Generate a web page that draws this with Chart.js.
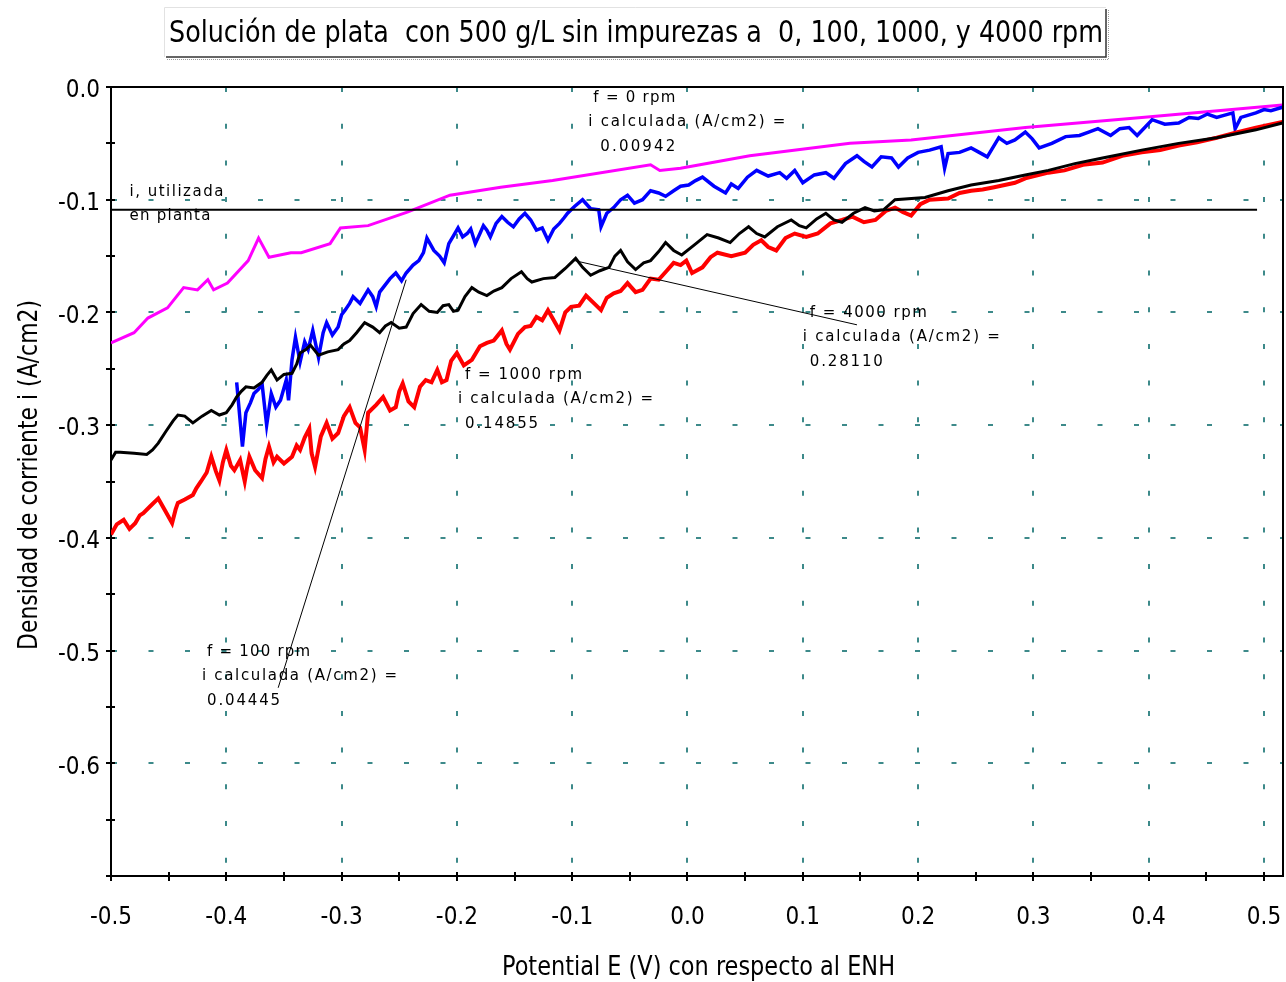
<!DOCTYPE html>
<html>
<head>
<meta charset="utf-8">
<script src="https://cdn.jsdelivr.net/npm/chart.js@4.4.0/dist/chart.umd.min.js"></script>
<style>
  html, body { margin: 0; padding: 0; background: #fff; }
  #wrap { width: 1286px; height: 982px; }
</style>
</head>
<body>
<div id="wrap"><canvas id="chart" width="1286" height="982"></canvas></div>
<script>
// Potential E (V vs ENH) / current density i (A/cm2), one array of [E, i] per speed
const E_MIN = -0.5, E_MAX = 0.5165;
const I_MIN = -0.7, I_MAX = 0.0;

// tick positions (labels only on the tenths)
const eTicks = [-0.5, -0.45, -0.4, -0.35, -0.3, -0.25, -0.2, -0.15, -0.1, -0.05, 0,
                0.05, 0.1, 0.15, 0.2, 0.25, 0.3, 0.35, 0.4, 0.45, 0.5];
const iTicks = [-0.7, -0.65, -0.6, -0.55, -0.5, -0.45, -0.4, -0.35, -0.3, -0.25,
                -0.2, -0.15, -0.1, -0.05, 0];

const rpm0 = [
  [-0.500,-0.227],[-0.480,-0.218],[-0.468,-0.205],[-0.451,-0.196],[-0.437,-0.178],[-0.425,-0.180],
  [-0.416,-0.171],[-0.411,-0.180],[-0.399,-0.174],[-0.381,-0.154],[-0.372,-0.134],[-0.363,-0.151],
  [-0.344,-0.147],[-0.335,-0.147],[-0.310,-0.139],[-0.301,-0.125],[-0.277,-0.123],[-0.243,-0.111],
  [-0.206,-0.096],[-0.162,-0.089],[-0.117,-0.083],[-0.032,-0.069],[-0.024,-0.074],[-0.006,-0.072],
  [0.054,-0.061],[0.141,-0.050],[0.194,-0.047],[0.293,-0.036],[0.394,-0.027],[0.516,-0.016]
];

const rpm100 = [
  [-0.391,-0.262],[-0.386,-0.319],[-0.383,-0.289],[-0.379,-0.280],[-0.376,-0.272],[-0.372,-0.268],
  [-0.369,-0.263],[-0.365,-0.300],[-0.361,-0.272],[-0.357,-0.284],[-0.353,-0.278],[-0.348,-0.260],
  [-0.346,-0.278],[-0.343,-0.242],[-0.340,-0.222],[-0.336,-0.244],[-0.332,-0.226],[-0.329,-0.233],
  [-0.325,-0.216],[-0.320,-0.240],[-0.316,-0.218],[-0.313,-0.209],[-0.308,-0.220],[-0.303,-0.213],
  [-0.300,-0.202],[-0.297,-0.198],[-0.293,-0.192],[-0.290,-0.186],[-0.284,-0.192],[-0.277,-0.180],
  [-0.273,-0.186],[-0.270,-0.195],[-0.267,-0.182],[-0.264,-0.178],[-0.258,-0.170],[-0.253,-0.165],
  [-0.248,-0.172],[-0.244,-0.165],[-0.238,-0.158],[-0.233,-0.154],[-0.229,-0.147],[-0.226,-0.134],
  [-0.220,-0.145],[-0.215,-0.150],[-0.211,-0.156],[-0.207,-0.139],[-0.203,-0.132],[-0.199,-0.125],
  [-0.195,-0.133],[-0.191,-0.130],[-0.188,-0.126],[-0.184,-0.139],[-0.180,-0.130],[-0.177,-0.123],
  [-0.174,-0.127],[-0.171,-0.133],[-0.166,-0.121],[-0.161,-0.115],[-0.156,-0.120],[-0.151,-0.124],
  [-0.146,-0.117],[-0.141,-0.112],[-0.136,-0.118],[-0.131,-0.127],[-0.126,-0.125],[-0.121,-0.136],
  [-0.116,-0.126],[-0.111,-0.121],[-0.107,-0.116],[-0.104,-0.112],[-0.098,-0.106],[-0.091,-0.100],
  [-0.084,-0.108],[-0.077,-0.109],[-0.075,-0.124],[-0.070,-0.112],[-0.064,-0.107],[-0.058,-0.100],
  [-0.052,-0.096],[-0.046,-0.103],[-0.039,-0.100],[-0.032,-0.092],[-0.025,-0.094],[-0.019,-0.097],
  [-0.012,-0.092],[-0.006,-0.088],[0.001,-0.087],[0.007,-0.083],[0.013,-0.080],[0.023,-0.088],
  [0.033,-0.094],[0.038,-0.086],[0.044,-0.090],[0.052,-0.080],[0.060,-0.074],[0.070,-0.079],
  [0.080,-0.076],[0.086,-0.081],[0.093,-0.074],[0.100,-0.085],[0.110,-0.078],[0.120,-0.076],
  [0.127,-0.081],[0.137,-0.068],[0.147,-0.061],[0.153,-0.066],[0.160,-0.071],[0.168,-0.062],
  [0.177,-0.063],[0.183,-0.071],[0.191,-0.063],[0.200,-0.058],[0.210,-0.056],[0.220,-0.053],
  [0.223,-0.072],[0.226,-0.059],[0.236,-0.058],[0.246,-0.054],[0.253,-0.058],[0.260,-0.062],
  [0.270,-0.045],[0.277,-0.050],[0.284,-0.047],[0.293,-0.040],[0.299,-0.046],[0.305,-0.054],
  [0.316,-0.050],[0.328,-0.044],[0.340,-0.043],[0.348,-0.040],[0.356,-0.037],[0.367,-0.043],
  [0.375,-0.037],[0.383,-0.036],[0.390,-0.043],[0.403,-0.029],[0.414,-0.033],[0.426,-0.032],
  [0.435,-0.027],[0.443,-0.028],[0.451,-0.024],[0.459,-0.027],[0.466,-0.025],[0.473,-0.023],
  [0.475,-0.037],[0.480,-0.027],[0.493,-0.023],[0.500,-0.020],[0.506,-0.021],[0.516,-0.018]
];

const rpm1000 = [
  [-0.500,-0.397],[-0.495,-0.388],[-0.489,-0.384],[-0.484,-0.392],[-0.479,-0.387],[-0.475,-0.380],
  [-0.472,-0.378],[-0.466,-0.372],[-0.459,-0.365],[-0.453,-0.376],[-0.447,-0.387],[-0.444,-0.375],
  [-0.442,-0.369],[-0.436,-0.366],[-0.429,-0.362],[-0.426,-0.356],[-0.422,-0.350],[-0.417,-0.342],
  [-0.413,-0.328],[-0.409,-0.341],[-0.406,-0.349],[-0.403,-0.333],[-0.400,-0.322],[-0.396,-0.336],
  [-0.393,-0.340],[-0.388,-0.331],[-0.384,-0.350],[-0.382,-0.338],[-0.380,-0.328],[-0.375,-0.340],
  [-0.369,-0.347],[-0.366,-0.330],[-0.363,-0.319],[-0.359,-0.333],[-0.356,-0.328],[-0.350,-0.334],
  [-0.343,-0.328],[-0.339,-0.318],[-0.336,-0.322],[-0.332,-0.311],[-0.328,-0.303],[-0.326,-0.325],
  [-0.323,-0.337],[-0.318,-0.310],[-0.313,-0.298],[-0.308,-0.312],[-0.303,-0.307],[-0.298,-0.292],
  [-0.293,-0.284],[-0.288,-0.298],[-0.284,-0.302],[-0.280,-0.322],[-0.277,-0.289],[-0.270,-0.282],
  [-0.264,-0.275],[-0.258,-0.287],[-0.253,-0.284],[-0.250,-0.270],[-0.247,-0.263],[-0.242,-0.279],
  [-0.237,-0.284],[-0.232,-0.266],[-0.227,-0.260],[-0.222,-0.262],[-0.217,-0.251],[-0.213,-0.262],
  [-0.209,-0.260],[-0.205,-0.243],[-0.200,-0.236],[-0.194,-0.247],[-0.187,-0.242],[-0.180,-0.230],
  [-0.174,-0.227],[-0.168,-0.225],[-0.161,-0.216],[-0.157,-0.228],[-0.154,-0.233],[-0.147,-0.219],
  [-0.141,-0.213],[-0.136,-0.212],[-0.131,-0.204],[-0.126,-0.207],[-0.121,-0.198],[-0.116,-0.207],
  [-0.111,-0.216],[-0.106,-0.200],[-0.101,-0.195],[-0.094,-0.194],[-0.088,-0.185],[-0.081,-0.192],
  [-0.075,-0.198],[-0.070,-0.187],[-0.064,-0.183],[-0.058,-0.181],[-0.052,-0.174],[-0.045,-0.182],
  [-0.039,-0.180],[-0.032,-0.170],[-0.025,-0.171],[-0.018,-0.163],[-0.012,-0.156],[-0.006,-0.158],
  [-0.001,-0.154],[0.004,-0.165],[0.013,-0.160],[0.020,-0.151],[0.026,-0.147],[0.038,-0.150],
  [0.050,-0.147],[0.057,-0.140],[0.064,-0.136],[0.070,-0.142],[0.077,-0.145],[0.085,-0.134],
  [0.093,-0.130],[0.103,-0.133],[0.113,-0.130],[0.124,-0.121],[0.134,-0.118],[0.143,-0.115],
  [0.153,-0.120],[0.163,-0.118],[0.172,-0.110],[0.180,-0.107],[0.187,-0.111],[0.194,-0.114],
  [0.202,-0.104],[0.210,-0.100],[0.226,-0.099],[0.236,-0.094],[0.246,-0.092],[0.256,-0.091],
  [0.266,-0.089],[0.284,-0.085],[0.293,-0.081],[0.313,-0.076],[0.327,-0.074],[0.343,-0.069],
  [0.360,-0.067],[0.377,-0.061],[0.394,-0.058],[0.410,-0.056],[0.426,-0.052],[0.442,-0.049],
  [0.459,-0.045],[0.477,-0.040],[0.493,-0.036],[0.516,-0.031]
];

const rpm4000 = [
  [-0.500,-0.331],[-0.496,-0.324],[-0.492,-0.324],[-0.480,-0.325],[-0.469,-0.326],[-0.464,-0.322],
  [-0.459,-0.316],[-0.452,-0.305],[-0.446,-0.296],[-0.442,-0.291],[-0.436,-0.292],[-0.429,-0.298],
  [-0.421,-0.292],[-0.413,-0.287],[-0.406,-0.291],[-0.400,-0.289],[-0.395,-0.282],[-0.391,-0.275],
  [-0.387,-0.270],[-0.383,-0.266],[-0.376,-0.267],[-0.369,-0.262],[-0.365,-0.256],[-0.361,-0.251],
  [-0.356,-0.260],[-0.350,-0.255],[-0.343,-0.254],[-0.339,-0.246],[-0.336,-0.236],[-0.331,-0.233],
  [-0.327,-0.229],[-0.320,-0.238],[-0.312,-0.235],[-0.303,-0.233],[-0.298,-0.228],[-0.293,-0.225],
  [-0.287,-0.218],[-0.280,-0.209],[-0.273,-0.213],[-0.267,-0.218],[-0.262,-0.212],[-0.257,-0.209],
  [-0.250,-0.214],[-0.244,-0.213],[-0.238,-0.201],[-0.231,-0.193],[-0.224,-0.199],[-0.217,-0.200],
  [-0.212,-0.194],[-0.207,-0.193],[-0.203,-0.199],[-0.199,-0.198],[-0.193,-0.186],[-0.187,-0.178],
  [-0.181,-0.182],[-0.174,-0.185],[-0.168,-0.181],[-0.161,-0.178],[-0.153,-0.170],[-0.144,-0.164],
  [-0.139,-0.170],[-0.135,-0.173],[-0.125,-0.170],[-0.115,-0.169],[-0.106,-0.161],[-0.097,-0.152],
  [-0.091,-0.160],[-0.084,-0.167],[-0.076,-0.163],[-0.068,-0.160],[-0.063,-0.150],[-0.058,-0.145],
  [-0.052,-0.155],[-0.045,-0.162],[-0.038,-0.156],[-0.032,-0.154],[-0.025,-0.146],[-0.019,-0.138],
  [-0.012,-0.145],[-0.005,-0.149],[0.006,-0.140],[0.017,-0.131],[0.027,-0.134],[0.037,-0.138],
  [0.045,-0.130],[0.053,-0.124],[0.060,-0.130],[0.067,-0.133],[0.078,-0.124],[0.090,-0.118],
  [0.097,-0.123],[0.103,-0.125],[0.112,-0.117],[0.120,-0.112],[0.127,-0.118],[0.134,-0.120],
  [0.144,-0.112],[0.154,-0.107],[0.162,-0.110],[0.170,-0.109],[0.180,-0.100],[0.206,-0.098],
  [0.226,-0.092],[0.246,-0.087],[0.270,-0.083],[0.293,-0.078],[0.313,-0.074],[0.336,-0.068],
  [0.360,-0.063],[0.394,-0.056],[0.426,-0.050],[0.459,-0.045],[0.493,-0.038],[0.516,-0.032]
];

// current density used in the plant, and the pointer lines to the labels
const plantCurrent = -0.109;
const plantSpan = [-0.5, 0.494];
const pointer100 = [[-0.244,-0.171],[-0.355,-0.533]];
const pointer4000 = [[-0.098,-0.154],[0.147,-0.211]];

// text blocks: anchor at left/middle of the first line, in axis units
const notes = [
  { E: -0.086, i: -0.0098, lines: ['f = 0 rpm', 'i calculada (A/cm2) =', '0.00942'], dx: [5, 0, 12], w: [82, 197, 75] },
  { E: -0.484, i: -0.0932, lines: ['i, utilizada', 'en planta'], dx: [0, 0], w: [94, 81] },
  { E: 0.100, i: -0.2005, lines: ['f = 4000 rpm', 'i calculada (A/cm2) =', '0.28110'], dx: [7, 0, 7], w: [117, 197, 73] },
  { E: -0.199, i: -0.2555, lines: ['f = 1000 rpm', 'i calculada (A/cm2) =', '0.14855'], dx: [7, 0, 7], w: [117, 195, 73] },
  { E: -0.421, i: -0.5013, lines: ['f = 100 rpm', 'i calculada (A/cm2) =', '0.04445'], dx: [5, 0, 5], w: [103, 195, 73] }
];

const chartTitle = 'Solución de plata  con 500 g/L sin impurezas a  0, 100, 1000, y 4000 rpm';
const xTitle = 'Potential E (V) con respecto al ENH';
const yTitle = 'Densidad de corriente i (A/cm2)';

const NARROW = '"Liberation Sans Narrow", "Arial Narrow", "DejaVu Sans Condensed", "Liberation Sans", sans-serif';
const GRID_TEAL = '#3d8a8a';

function toPoints(arr) {
  return arr.map(p => ({ x: p[0], y: p[1] }));
}

function curve(label, arr, color, width) {
  return {
    label: label,
    data: toPoints(arr),
    borderColor: color,
    borderWidth: width,
    pointRadius: 0,
    tension: 0,
    fill: false
  };
}

function isTenth(v) {
  const t = v * 10;
  return Math.abs(t - Math.round(t)) < 1e-6;
}

function gridColor(min, max) {
  return ctx => {
    const v = ctx.tick ? ctx.tick.value : undefined;
    if (v === undefined || !isTenth(v)) return 'transparent';
    if (Math.abs(v - min) < 1e-6 || Math.abs(v - max) < 1e-6) return 'transparent';
    return GRID_TEAL;
  };
}

// squeeze or stretch a string to a given width
function fitText(ctx, str, cx, baseline, width) {
  const w = ctx.measureText(str).width;
  ctx.save();
  ctx.translate(cx, baseline);
  ctx.scale(width / w, 1);
  ctx.textAlign = 'center';
  ctx.textBaseline = 'alphabetic';
  ctx.fillText(str, 0, 0);
  ctx.restore();
}

// spread letters so the string spans the given width
function spacedText(ctx, str, x, y, width) {
  ctx.letterSpacing = '0px';
  const w = ctx.measureText(str).width;
  const gap = str.length > 1 ? (width - w) / (str.length - 1) : 0;
  ctx.letterSpacing = gap.toFixed(2) + 'px';
  ctx.fillText(str, x, y);
  ctx.letterSpacing = '0px';
}

const decor = {
  id: 'decor',
  afterDraw(chart) {
    const { ctx, chartArea: a, scales: { x, y } } = chart;
    ctx.save();

    // top and right frame
    ctx.strokeStyle = '#000';
    ctx.lineWidth = 2;
    ctx.beginPath();
    ctx.moveTo(a.left - 1, a.top);
    ctx.lineTo(a.right, a.top);
    ctx.lineTo(a.right, a.bottom + 1);
    ctx.stroke();

    // tick marks crossing the axes
    ctx.lineWidth = 2;
    ctx.beginPath();
    x.ticks.forEach(t => {
      const px = Math.round(x.getPixelForValue(t.value));
      ctx.moveTo(px, a.bottom - 4);
      ctx.lineTo(px, a.bottom + 5);
    });
    y.ticks.forEach(t => {
      const py = Math.round(y.getPixelForValue(t.value));
      ctx.moveTo(a.left - 5, py);
      ctx.lineTo(a.left + 4, py);
    });
    ctx.stroke();

    // text blocks inside the plot
    ctx.fillStyle = '#000';
    ctx.font = '15px "DejaVu Sans", sans-serif';
    ctx.textAlign = 'left';
    ctx.textBaseline = 'middle';
    notes.forEach(n => {
      const px = x.getPixelForValue(n.E);
      const py = y.getPixelForValue(n.i);
      n.lines.forEach((line, k) => {
        spacedText(ctx, line, px + n.dx[k], py + k * 24.5, n.w[k]);
      });
    });

    // title box
    const bx = 164, by = 7, bw = 942, bh = 50;
    ctx.fillStyle = '#fff';
    ctx.fillRect(bx, by, bw, bh);
    ctx.strokeStyle = '#9a9a9a';
    ctx.lineWidth = 1;
    ctx.setLineDash([1, 1]);
    ctx.beginPath();
    ctx.moveTo(bx + 3, by + bh + 2.5);
    ctx.lineTo(bx + bw + 2.5, by + bh + 2.5);
    ctx.lineTo(bx + bw + 2.5, by + 3);
    ctx.stroke();
    ctx.setLineDash([]);
    ctx.strokeStyle = '#e2e2e2';
    ctx.beginPath();
    ctx.moveTo(bx + 0.5, by + bh);
    ctx.lineTo(bx + 0.5, by + 0.5);
    ctx.lineTo(bx + bw, by + 0.5);
    ctx.stroke();
    ctx.strokeStyle = '#333';
    ctx.lineWidth = 1.5;
    ctx.beginPath();
    ctx.moveTo(bx + bw, by + 2);
    ctx.lineTo(bx + bw, by + bh);
    ctx.lineTo(bx + 2, by + bh);
    ctx.stroke();

    ctx.fillStyle = '#000';
    ctx.font = '31px ' + NARROW;
    fitText(ctx, chartTitle, 636, 42, 934);

    // axis titles
    ctx.font = '26px ' + NARROW;
    fitText(ctx, xTitle, 698.5, 975, 393);
    ctx.save();
    ctx.translate(37, 475);
    ctx.rotate(-Math.PI / 2);
    fitText(ctx, yTitle, 0, 0, 350);
    ctx.restore();

    ctx.restore();
  }
};

const plantLine = [[plantSpan[0], plantCurrent], [plantSpan[1], plantCurrent]];

new Chart(document.getElementById('chart'), {
  type: 'line',
  data: {
    datasets: [
      curve('pointer 4000', pointer4000, '#000', 1),
      curve('pointer 100', pointer100, '#000', 1),
      curve('i, utilizada en planta', plantLine, '#000', 2),
      curve('4000 rpm', rpm4000, '#000000', 3),
      curve('1000 rpm', rpm1000, '#ff0000', 4),
      curve('100 rpm', rpm100, '#0000ff', 3.5),
      curve('0 rpm', rpm0, '#ff00ff', 3)
    ]
  },
  options: {
    responsive: false,
    animation: false,
    events: [],
    layout: { padding: { top: 87, right: 3, left: 0, bottom: 0 } },
    plugins: {
      legend: { display: false },
      tooltip: { enabled: false },
      title: { display: false }
    },
    scales: {
      x: {
        type: 'linear',
        min: E_MIN,
        max: E_MAX,
        afterBuildTicks: s => { s.ticks = eTicks.map(v => ({ value: v })); },
        afterFit: s => { s.height = 106; s.paddingLeft = 0; s.paddingRight = 0; },
        ticks: {
          autoSkip: false,
          maxRotation: 0,
          padding: 27,
          color: '#000',
          font: { family: NARROW, size: 24 },
          callback: v => isTenth(v) ? v.toFixed(1) : ''
        },
        grid: { color: gridColor(E_MIN, E_MAX), lineWidth: 2, drawTicks: false },
        border: { display: true, color: '#000', width: 2, dash: [5, 31.7] }
      },
      y: {
        type: 'linear',
        min: I_MIN,
        max: I_MAX,
        afterBuildTicks: s => { s.ticks = iTicks.map(v => ({ value: v })); },
        afterFit: s => { s.width = 111; s.paddingTop = 0; s.paddingBottom = 0; },
        ticks: {
          autoSkip: false,
          padding: 11,
          labelOffset: 4,
          color: '#000',
          font: { family: NARROW, size: 24 },
          callback: v => (isTenth(v) && v > I_MIN + 1e-6) ? v.toFixed(1) : ''
        },
        grid: { color: gridColor(I_MIN, I_MAX), lineWidth: 2, drawTicks: false },
        border: { display: true, color: '#000', width: 2, dash: [5, 31.5] }
      }
    }
  },
  plugins: [decor]
});
</script>
</body>
</html>
